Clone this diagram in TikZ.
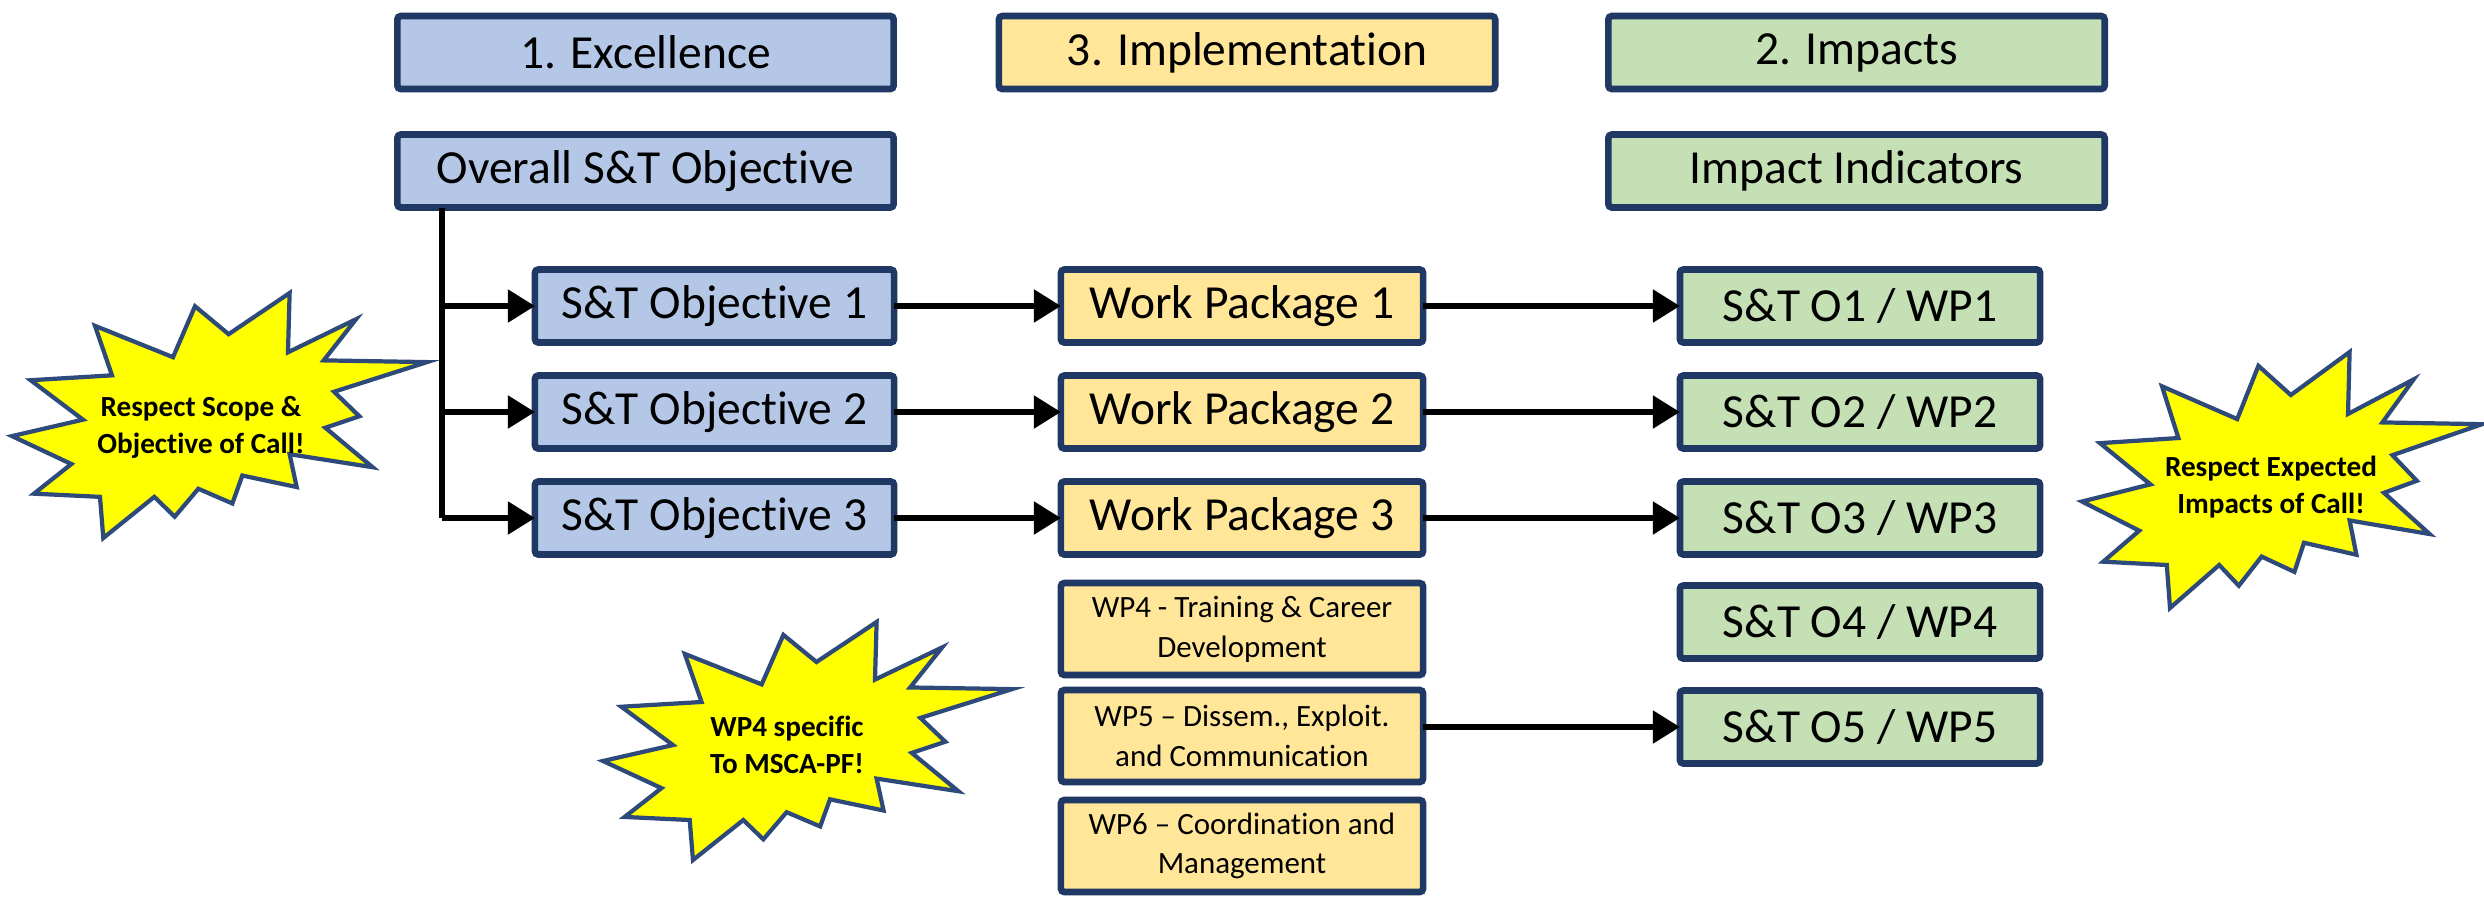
\documentclass[tikz,border=0pt]{standalone}
\usepackage{fontspec}
\setmainfont{Carlito}[Ligatures={NoCommon}]
\usetikzlibrary{arrows.meta,calc}
\definecolor{navy}{HTML}{203864}
\definecolor{blueF}{HTML}{B4C7E7}
\definecolor{yellowF}{HTML}{FFE699}
\definecolor{greenF}{HTML}{C5E0B4}
\definecolor{burstF}{HTML}{FFFF00}
\definecolor{burstB}{HTML}{2E4A7A}
\tikzset{
  box/.style={draw=navy, line width=1.9pt, rounded corners=1pt, align=center,
    inner sep=0pt, outer sep=0pt, text=black, font=\fontsize{13.5}{16}\selectfont},
  bluebox/.style={box, fill=blueF},
  yellowbox/.style={box, fill=yellowF},
  greenbox/.style={box, fill=greenF},
  wide/.style={minimum width=4.96cm, minimum height=0.73cm},
  narrow/.style={minimum width=3.59cm, minimum height=0.73cm},
  tall/.style={minimum width=3.62cm, minimum height=0.92cm, font=\fontsize{8.8}{11.3}\selectfont},
  conn/.style={line width=1.5pt, -{Triangle[length=0.27cm,width=0.32cm]}},
  trunkline/.style={line width=1.5pt},
  burstline/.style={draw=burstB, fill=burstF, line width=1.2pt, line join=miter},
  bursttext/.style={font=\bfseries\fontsize{8.3}{10.5}\selectfont, align=center, inner sep=0pt}
}
\newcommand\starburst[4]{%
  \begin{scope}[shift={(#1,#2)}, xscale=#3, yscale=#4]
    \draw[burstline] (66.9,0) -- (66.5,24.2) -- (82.9,10.7) -- (75.1,27.5) -- (100,28.2)
      -- (77.6,40.3) -- (83.7,50.3) -- (75.5,55.0) -- (86.9,71.1) -- (66.9,65.8)
      -- (68.6,79.2) -- (55.5,74.5) -- (53.1,85.9) -- (44.9,79.9) -- (39.2,91.3)
      -- (34.3,83.2) -- (22.0,100) -- (21.2,83.2) -- (5.3,81.9) -- (14.3,69.8)
      -- (0,58.4) -- (17.1,51.7) -- (4.5,35.6) -- (24.1,33.6) -- (20,13.4)
      -- (38.8,26.2) -- (44.1,5.4) -- (52.2,16.8) -- cycle;
  \end{scope}}
\begin{document}
\begin{tikzpicture}[x=0.01cm, y=-0.01cm]
\useasboundingbox[fill=white] (0,0) rectangle (2484,896);

% starbursts
\starburst{12}{293}{4.15}{2.45}
\starburst{2082}{352}{4.0}{2.56}
\starburst{603}{622}{4.09}{2.38}
\node[bursttext] (b1) at (201,427) {Respect Scope \&\\Objective of Call!};
\node[bursttext] (b2) at (2271,487) {Respect Expected\\Impacts of Call!};
\node[bursttext] (b3) at (787,745) {WP4 specific\\To MSCA-PF!};

% headers
\node[bluebox, wide] (h1) at (645.5,52.5) {1. Excellence};
\node[yellowbox, wide] (h3) at (1247,52.5) {3. Implementation};
\node[greenbox, wide] (h2) at (1856.5,52.5) {2. Impacts};
\node[bluebox, wide] (ov) at (645.5,171) {Overall S\&T Objective};
\node[greenbox, wide] (ii) at (1856.5,171) {Impact Indicators};

% objectives
\node[bluebox, narrow] (o1) at (714.5,306) {S\&T Objective 1};
\node[bluebox, narrow] (o2) at (714.5,412) {S\&T Objective 2};
\node[bluebox, narrow] (o3) at (714.5,518) {S\&T Objective 3};

% work packages
\node[yellowbox, narrow, minimum width=3.62cm] (wp1) at (1242,306) {Work Package 1};
\node[yellowbox, narrow, minimum width=3.62cm] (wp2) at (1242,412) {Work Package 2};
\node[yellowbox, narrow, minimum width=3.62cm] (wp3) at (1242,518) {Work Package 3};
\node[yellowbox, tall] (wp4) at (1242,629) {WP4 - Training \& Career\\Development};
\node[yellowbox, tall] (wp5) at (1242,736) {WP5 – Dissem., Exploit.\\and Communication};
\node[yellowbox, tall] (wp6) at (1242,846) {WP6 – Coordination and\\Management};

% impact objectives
\node[greenbox, narrow, minimum width=3.6cm] (s1) at (1860,306) {S\&T O1 / WP1};
\node[greenbox, narrow, minimum width=3.6cm] (s2) at (1860,412) {S\&T O2 / WP2};
\node[greenbox, narrow, minimum width=3.6cm] (s3) at (1860,518) {S\&T O3 / WP3};
\node[greenbox, narrow, minimum width=3.6cm] (s4) at (1860,622) {S\&T O4 / WP4};
\node[greenbox, narrow, minimum width=3.6cm] (s5) at (1860,727) {S\&T O5 / WP5};

% connectors
\coordinate (trunk) at (442,0);
\draw[trunkline] (trunk |- ov.south) -- (trunk |- o3.west);
\foreach \o in {o1,o2,o3}{
  \draw[conn] (trunk |- \o.west) -- (\o.west);
}
\draw[conn] (o1.east) -- (wp1.west);
\draw[conn] (o2.east) -- (wp2.west);
\draw[conn] (o3.east) -- (wp3.west);
\draw[conn] (wp1.east) -- (s1.west);
\draw[conn] (wp2.east) -- (s2.west);
\draw[conn] (wp3.east) -- (s3.west);
\draw[conn] (wp5.east |- s5.west) -- (s5.west);
\end{tikzpicture}
\end{document}
